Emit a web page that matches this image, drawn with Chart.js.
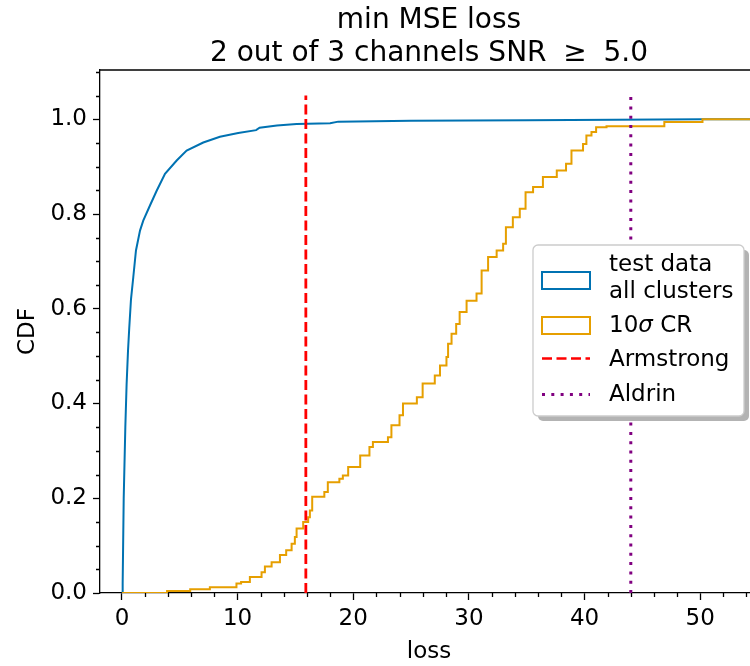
<!DOCTYPE html>
<html>
<head>
<meta charset="utf-8">
<script src="https://cdn.jsdelivr.net/npm/chart.js@4"></script>
<style>
  html, body { margin: 0; padding: 0; overflow: hidden; background: #fff; }
  #wrap { width: 750px; height: 666px; overflow: hidden; }
</style>
</head>
<body>
<div id="wrap"><canvas id="cdfChart" width="758" height="666"></canvas></div>
<script>
const blueLoss = [0.06, 0.06, 0.15, 0.29, 0.40, 0.52, 0.63, 0.78, 0.98, 1.21, 1.56, 1.84, 2.42, 3.0, 3.72,
  4.73, 5.59, 7.03, 8.47, 10.05, 11.6, 11.9, 13.4, 15.1, 18.0, 18.7, 25, 35, 50.2, 55];
const blueCdf = [0, 0.02, 0.20, 0.35, 0.44, 0.51, 0.56, 0.62, 0.667, 0.723, 0.765, 0.786, 0.818, 0.849, 0.885,
  0.913, 0.934, 0.951, 0.963, 0.971, 0.977, 0.982, 0.987, 0.990, 0.9915, 0.995, 0.997, 0.998, 1.0, 1.0];

// 10 sigma CR
const orangeLoss = [0, 3.9, 5.9, 7.6, 9.9, 10.3, 11.06, 12.07, 12.36, 12.94, 13.66, 14.2, 14.67, 14.95, 15.1,
  15.67, 16.1, 16.25, 16.45, 17.5, 17.8, 18.8, 19.1, 19.56, 20.6, 21.4, 21.7, 23.0, 23.3, 24.0,
  24.3, 25.5, 26.0, 27.05, 27.5, 28.06, 28.2, 28.5, 28.9, 29.2, 29.8, 30.66, 31.1, 31.66, 32.4,
  32.96, 33.2, 33.8, 34.4, 34.9, 35.55, 36.4, 37.6, 38.4, 38.87, 39.87, 40.16, 40.6, 41.0, 41.9,
  46.9, 50.2, 55];
const orangeCdf = [0, 0.004, 0.008, 0.012, 0.02, 0.023, 0.034, 0.044, 0.056, 0.065, 0.08, 0.09, 0.104, 0.118, 0.136,
  0.15, 0.16, 0.174, 0.203, 0.213, 0.234, 0.241, 0.248, 0.266, 0.29, 0.308, 0.319, 0.329, 0.354, 0.375,
  0.40, 0.413, 0.442, 0.459, 0.48, 0.498, 0.526, 0.547, 0.568, 0.593, 0.617, 0.632, 0.681, 0.709, 0.723,
  0.737, 0.772, 0.793, 0.811, 0.846, 0.857, 0.878, 0.892, 0.906, 0.934, 0.948, 0.966, 0.973, 0.983, 0.985,
  0.994, 1.0, 1.0];

// reference losses (vertical lines)
const armstrongLoss = 15.9;
const aldrinLoss = 44.0;
const vlineTop = 1.05;

const xTicks = [0, 10, 20, 30, 40, 50];
const yTicks = [0, 0.2, 0.4, 0.6, 0.8, 1.0];
const titleLine1 = 'min MSE loss';
const titleLine2 = ['2 out of 3 channels SNR ', '\u2265', ' 5.0'];

const FONT = "'DejaVu Sans', sans-serif";
const BLUE = '#0072B2';
const ORANGE = '#E69F00';
const FS = 23;
const TITLE_FS = 28;

const toPoints = (xs, ys) => xs.map((x, i) => ({ x: x, y: ys[i] }));

// title, minor ticks, top spine and the legend
const decorations = {
  id: 'decorations',
  afterDraw(chart) {
    const ctx = chart.ctx;
    const area = chart.chartArea;
    const xs = chart.scales.x;
    const ys = chart.scales.y;
    ctx.save();

    // title centred over the axes
    const cx = (area.left + area.right) / 2;
    ctx.fillStyle = '#000';
    ctx.font = TITLE_FS + 'px ' + FONT;
    ctx.textBaseline = 'alphabetic';
    ctx.textAlign = 'center';
    ctx.fillText(titleLine1, cx, 28);
    const gap = TITLE_FS * 0.28;
    const widths = titleLine2.map(t => ctx.measureText(t).width);
    const total = widths[0] + widths[1] + widths[2] + 2 * gap;
    let x0 = cx - total / 2;
    ctx.textAlign = 'left';
    ctx.fillText(titleLine2[0], x0, 61);
    ctx.fillText(titleLine2[1], x0 + widths[0] + gap, 61);
    ctx.fillText(titleLine2[2], x0 + widths[0] + widths[1] + 2 * gap, 61);

    ctx.strokeStyle = '#000';
    ctx.lineWidth = 1.3;
    ctx.beginPath();
    for (let v = 0; v <= xs.max; v += 2) {
      if (v % 10 === 0) continue;
      const px = Math.round(xs.getPixelForValue(v)) + 0.5;
      ctx.moveTo(px, area.bottom);
      ctx.lineTo(px, area.bottom + 4);
    }
    for (let k = 0; k * 0.05 <= ys.max; k++) {
      if (k % 4 === 0) continue;
      const py = Math.round(ys.getPixelForValue(k * 0.05)) + 0.5;
      ctx.moveTo(area.left, py);
      ctx.lineTo(area.left - 4, py);
    }
    // top spine
    ctx.moveTo(area.left, area.top);
    ctx.lineTo(area.right, area.top);
    ctx.stroke();

    // legend
    const lx = 533, ly = 245, lw = 211, lh = 171;
    const r = 5;
    const box = (x, y, w, h) => {
      ctx.beginPath();
      ctx.moveTo(x + r, y);
      ctx.arcTo(x + w, y, x + w, y + h, r);
      ctx.arcTo(x + w, y + h, x, y + h, r);
      ctx.arcTo(x, y + h, x, y, r);
      ctx.arcTo(x, y, x + w, y, r);
      ctx.closePath();
    };
    ctx.fillStyle = '#b3b3b3';
    box(lx + 5, ly + 5, lw, lh);
    ctx.fill();
    ctx.fillStyle = '#fff';
    box(lx, ly, lw, lh);
    ctx.fill();
    ctx.strokeStyle = '#cccccc';
    ctx.lineWidth = 1.3;
    ctx.stroke();

    const sx = 542, sw = 48, tx = 609;
    ctx.lineWidth = 2;
    ctx.strokeStyle = BLUE;
    ctx.strokeRect(sx, 272, sw, 17);
    ctx.strokeStyle = ORANGE;
    ctx.strokeRect(sx, 317, sw, 17);

    ctx.lineWidth = 2.7;
    ctx.lineCap = 'butt';
    ctx.strokeStyle = '#ff0000';
    ctx.setLineDash([10, 4.5]);
    ctx.beginPath();
    ctx.moveTo(sx, 358.5);
    ctx.lineTo(sx + sw, 358.5);
    ctx.stroke();
    ctx.strokeStyle = '#800080';
    ctx.lineWidth = 3;
    ctx.setLineDash([3, 6.3]);
    ctx.beginPath();
    ctx.moveTo(sx, 394.5);
    ctx.lineTo(sx + sw, 394.5);
    ctx.stroke();
    ctx.setLineDash([]);

    ctx.fillStyle = '#000';
    ctx.textBaseline = 'middle';
    ctx.textAlign = 'left';
    ctx.font = FS + 'px ' + FONT;
    ctx.fillText('test data', tx, 265);
    ctx.fillText('all clusters', tx, 292);
    ctx.fillText('10', tx, 326);
    const w10 = ctx.measureText('10').width;
    ctx.font = 'italic ' + FS + 'px ' + FONT;
    ctx.fillText('\u03c3', tx + w10, 326);
    const ws = ctx.measureText('\u03c3').width;
    ctx.font = FS + 'px ' + FONT;
    ctx.fillText(' CR', tx + w10 + ws, 326);
    ctx.fillText('Armstrong', tx, 360);
    ctx.fillText('Aldrin', tx, 395);
    ctx.restore();
  }
};

new Chart(document.getElementById('cdfChart'), {
  type: 'scatter',
  data: {
    datasets: [
      {
        label: 'Armstrong',
        data: toPoints([armstrongLoss, armstrongLoss], [0, vlineTop]),
        showLine: true,
        borderColor: '#ff0000',
        borderWidth: 2.8,
        borderDash: [10, 4.5],
        pointRadius: 0,
        order: 0
      },
      {
        label: 'Aldrin',
        data: toPoints([aldrinLoss, aldrinLoss], [0, vlineTop]),
        showLine: true,
        borderColor: '#800080',
        borderWidth: 3,
        borderDash: [3, 6.3],
        pointRadius: 0,
        order: 0
      },
      {
        label: '10\u03c3 CR',
        data: toPoints(orangeLoss, orangeCdf),
        showLine: true,
        stepped: true,
        borderColor: ORANGE,
        borderWidth: 2,
        pointRadius: 0,
        order: 1
      },
      {
        label: 'test data all clusters',
        data: toPoints(blueLoss, blueCdf),
        showLine: true,
        borderColor: BLUE,
        borderWidth: 2,
        pointRadius: 0,
        tension: 0,
        order: 2
      }
    ]
  },
  options: {
    responsive: false,
    animation: false,
    devicePixelRatio: 1,
    layout: { padding: { top: 70, left: 0, right: 0, bottom: 0 } },
    plugins: {
      legend: { display: false },
      tooltip: { enabled: false },
      title: { display: false }
    },
    scales: {
      x: {
        type: 'linear',
        min: -1.9,
        max: 55,
        afterBuildTicks: (scale) => { scale.ticks = xTicks.map(v => ({ value: v })); },
        afterFit: (scale) => { scale.height = 73; },
        border: { display: true, color: '#000', width: 1.3 },
        grid: { drawOnChartArea: false, drawTicks: true, tickLength: 7, tickWidth: 1.3, tickColor: '#000' },
        ticks: { color: '#000', font: { family: FONT, size: FS }, padding: 5, maxRotation: 0 },
        title: { display: true, text: 'loss', color: '#000', font: { family: FONT, size: FS }, padding: 0 }
      },
      y: {
        type: 'linear',
        min: 0,
        max: 1.104,
        afterBuildTicks: (scale) => { scale.ticks = yTicks.map(v => ({ value: v })); },
        afterFit: (scale) => { scale.width = 100; },
        border: { display: true, color: '#000', width: 1.3 },
        grid: { drawOnChartArea: false, drawTicks: true, tickLength: 7, tickWidth: 1.3, tickColor: '#000' },
        ticks: { color: '#000', font: { family: FONT, size: FS }, padding: 6, callback: v => v.toFixed(1) },
        title: { display: true, text: 'CDF', color: '#000', font: { family: FONT, size: FS }, padding: { top: 14, bottom: 0 } }
      }
    }
  },
  plugins: [decorations]
});
</script>
</body>
</html>
